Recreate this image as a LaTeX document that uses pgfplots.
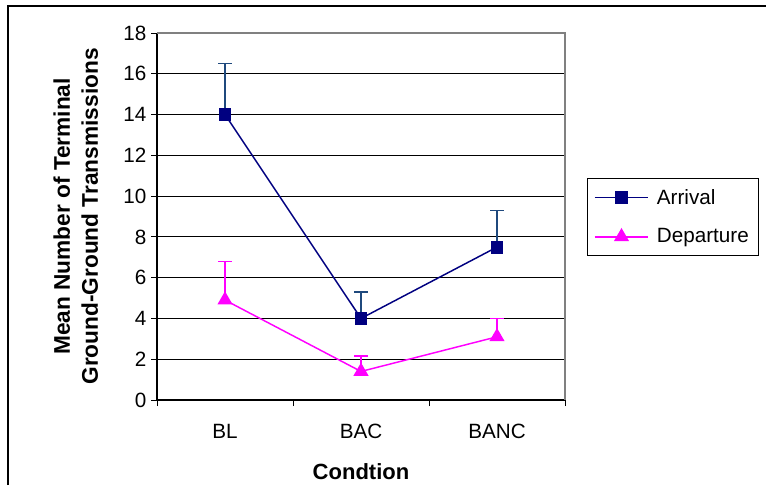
\documentclass[border=0pt]{standalone}
\usepackage{pgfplots}
\pgfplotsset{compat=1.18}
\usepackage{fontspec}
\setmainfont{Liberation Sans}
\definecolor{arrival}{RGB}{0,0,128}
\definecolor{arrerr}{RGB}{31,73,125}
\definecolor{depart}{RGB}{255,0,255}
\begin{document}
\begin{tikzpicture}
\path[use as bounding box] (0,0) rectangle (574.5pt,363.75pt);
\draw[line width=1.5pt] (6pt,0) -- (6pt,359.25pt) -- (574.5pt,359.25pt);
\begin{axis}[
  at={(117.75pt,63.75pt)}, anchor=south west,
  scale only axis, width=306pt, height=275.25pt,
  xmin=-0.5, xmax=2.5, ymin=0, ymax=18,
  axis x line*=bottom, axis y line*=left,
  axis line style={black, line width=0.8pt},
  xtick={0,1,2}, xticklabels={BL,BAC,BANC},
  major x tick style={draw=none},
  minor xtick={-0.5,0.5,1.5,2.5},
  minor x tick style={black, line width=0.6pt},
  minor tick length=4.5pt,
  ytick={0,2,...,18},
  major tick length=4.5pt,
  tick align=outside,
  y tick style={black, line width=0.6pt},
  ymajorgrids, grid style={black, line width=0.6pt},
  /pgf/number format/assume math mode=true,
  tick label style={font=\fontsize{15.5}{18}\selectfont},
  xticklabel style={yshift=-10pt},
  xlabel={Condtion},
  xlabel style={font=\fontsize{16.5}{19}\selectfont\bfseries, yshift=-12pt},
  ylabel={Mean Number of Terminal\\Ground-Ground Transmissions},
  ylabel style={font=\fontsize{17}{21}\selectfont\bfseries, align=center, yshift=12pt},
  legend style={at={(1.054,0.605)}, anchor=north west, draw=black, line width=0.6pt,
    font=\fontsize{15.5}{18}\selectfont, row sep=13pt, inner xsep=5pt, inner ysep=6pt},
  legend cell align=left,
  legend image code/.code={\draw[#1] (0pt,0pt) -- (40pt,0pt); \draw[#1, mark repeat=2, mark phase=2] plot coordinates {(0pt,0pt) (20pt,0pt) (40pt,0pt)}; \path (44pt,0pt);},
  clip=false,
]
\addplot[color=arrival, line width=1.1pt, mark=square*, mark size=4.3pt,
  mark options={solid, fill=arrival},
  error bars/.cd, y dir=plus, y explicit,
  error mark options={rotate=90, mark size=5.25pt, line width=1.1pt, color=arrerr},
  error bar style={color=arrerr, line width=1.1pt}]
  table[x=x, y=y, y error=e] {
x y e
0 14 2.5
1 4 1.3
2 7.5 1.8
};
\addlegendentry{Arrival}
\addplot[color=depart, line width=1.1pt, mark=triangle*, mark size=5.5pt,
  mark options={solid, fill=depart},
  error bars/.cd, y dir=plus, y explicit,
  error mark options={rotate=90, mark size=5.25pt, line width=1.1pt, color=depart},
  error bar style={color=depart, line width=1.1pt}]
  table[x=x, y=y, y error=e] {
x y e
0 4.9 1.9
1 1.4 0.75
2 3.1 0.9
};
\addlegendentry{Departure}
\draw[gray, line width=0.8pt] (rel axis cs:0,1) -- (rel axis cs:1,1) -- (rel axis cs:1,0);
\end{axis}
\end{tikzpicture}
\end{document}
